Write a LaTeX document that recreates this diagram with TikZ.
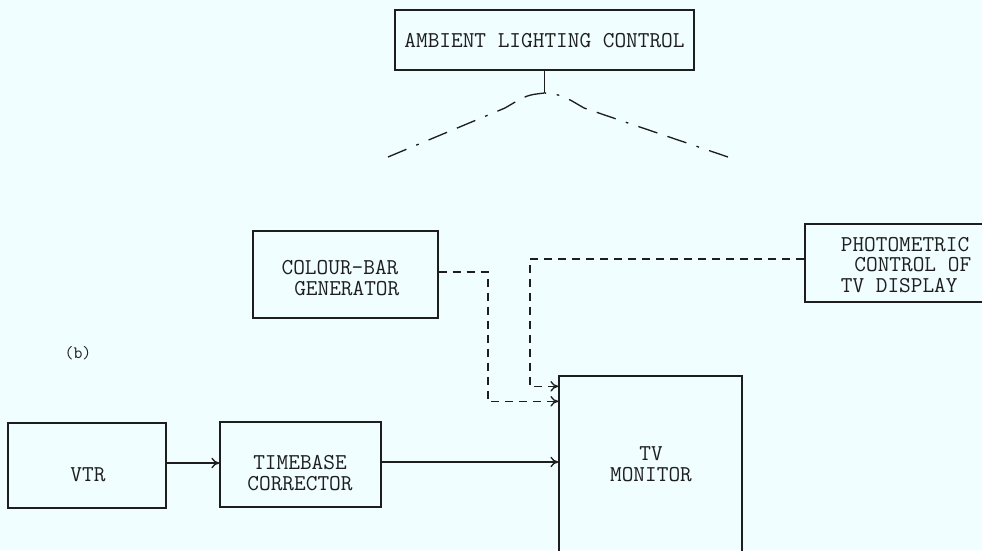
\documentclass[tikz,border=0pt]{standalone}
\usetikzlibrary{arrows.meta,calc}
\definecolor{bgc}{RGB}{240,254,255}
\definecolor{ink}{RGB}{30,30,30}
\begin{document}
\begin{tikzpicture}[x=0.75pt,y=-0.75pt,
  box/.style={draw=ink,line width=1pt,inner sep=0pt},
  txt/.style={inner sep=0pt,align=center,text=ink,font=\ttfamily\fontsize{17}{15.5}\selectfont},
  arr/.style={-{To[length=6pt,width=8pt]}},
  dsh/.style={draw=ink,line width=1pt,dash pattern=on 6pt off 4.5pt},
  sol/.style={draw=ink,line width=1pt},
  ddot/.style={draw=ink,line width=1pt,dash pattern=on 15pt off 8pt on 2pt off 8pt on 15pt off 8pt}]
\fill[bgc] (0,0) rectangle (982,550);
\useasboundingbox (0,0) rectangle (982,550);
\clip (0,0) rectangle (982,550);
% boxes
\node[box,minimum width=224.25pt,minimum height=45pt] (amb) at (544.5,40) {};
\node[txt] (ambtxt) at (544.5,41) {AMBIENT LIGHTING CONTROL};
\node[box,minimum width=138.75pt,minimum height=65.25pt] (cb) at (345.5,274.5) {};
\node[txt] (cbtxt) at (340,278) {COLOUR-BAR\\\hspace*{0.6em}GENERATOR};
\node[box,minimum width=138.75pt,minimum height=58.5pt] (photo) at (897.5,263) {};
\node[txt,align=left] (phototxt) at (906,265) {PHOTOMETRIC\\\hspace*{0.6em}CONTROL OF\\TV DISPLAY};
\node[box,minimum width=137.25pt,minimum height=132pt] (mon) at (650.5,464) {};
\node[txt] (montxt) at (651,464) {TV\\MONITOR};
\node[box,minimum width=118.5pt,minimum height=63.75pt] (vtr) at (87,465.5) {};
\node[txt] (vtrtxt) at (88,475) {VTR};
\node[box,minimum width=120.75pt,minimum height=63.75pt] (tbc) at (300.5,464.5) {};
\node[txt] (tbctxt) at (300,473) {TIMEBASE\\CORRECTOR};
\node[txt,font=\ttfamily\fontsize{13}{14}\selectfont] (lblb) at (78,353) {(b)};
% ambient lighting fan
\coordinate (apex) at (544.5,93);
\coordinate (lend) at (388,157);
\coordinate (rend) at (728,157);
\draw[sol] (amb.south) -- (apex);
\draw[ddot] (lend) -- (505,108) .. controls (527,95) .. (apex);
\draw[ddot] (rend) -- (584,108) .. controls (562,95) .. (apex);
% signal paths
\draw[sol,arr] (vtr.east |- 0,463) -- (tbc.west |- 0,463);
\draw[sol,arr] (tbc.east |- 0,462) -- (mon.west |- 0,462);
\draw[dsh,arr] (cb.east |- 0,272) -- (488,272) |- ([yshift=-19.5pt]mon.north west);
\draw[dsh,arr] (photo.west |- 0,259) -- (530,259) |- ([yshift=-8.25pt]mon.north west);
\end{tikzpicture}
\end{document}
